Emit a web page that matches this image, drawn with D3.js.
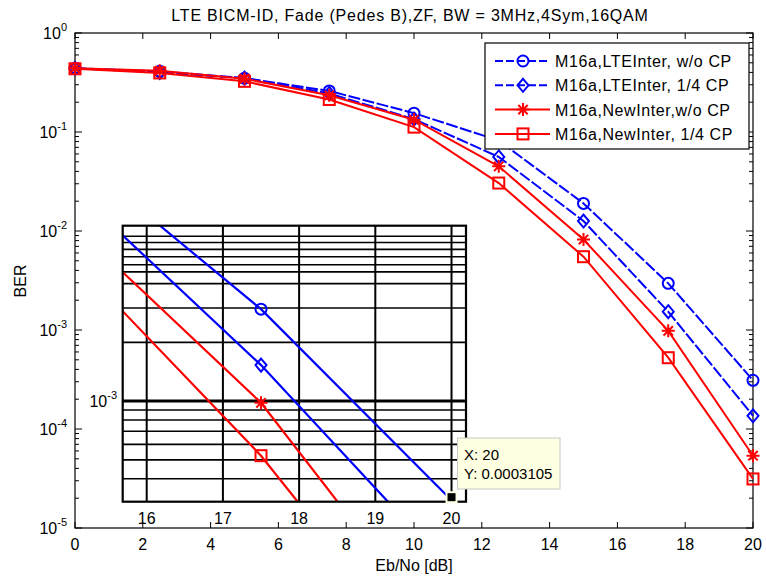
<!DOCTYPE html>
<html><head><meta charset="utf-8">
<script src="https://cdn.jsdelivr.net/npm/d3@7"></script>
<style>body{margin:0;background:#fff}svg{display:block;font-family:"Liberation Sans",Arial,sans-serif}</style>
</head><body>
<svg id="c" width="766" height="577"></svg>
<script>
// ---------- data ----------
const ebno = [0, 2.5, 5, 7.5, 10, 12.5, 15, 17.5, 20];
const lteNoCP  = [0.44, 0.41, 0.35, 0.26, 0.155, 0.082, 0.019, 0.00296, 0.0003105];
const lte14CP  = [0.44, 0.40, 0.35, 0.245, 0.135, 0.056, 0.0126, 0.00153, 0.000136];
const newNoCP  = [0.44, 0.415, 0.345, 0.235, 0.133, 0.045, 0.0082, 0.00098, 0.0000537];
const new14CP  = [0.435, 0.395, 0.325, 0.213, 0.112, 0.0305, 0.0055, 0.000525, 0.0000313];
const seriesNames = ["M16a,LTEInter, w/o CP", "M16a,LTEInter, 1/4 CP", "M16a,NewInter,w/o CP", "M16a,NewInter, 1/4 CP"];
const xTicks = [0, 2, 4, 6, 8, 10, 12, 14, 16, 18, 20];
const yExp = [0, -1, -2, -3, -4, -5];
const insetXTicks = [16, 17, 18, 19, 20];
const insetYMajor = [1e-3];
const insetExtraGrid = [4.6e-3, 5.5e-3, 6.5e-3];
const tipX = 20, tipY = 0.0003105;
const titleText = "LTE BICM-ID, Fade (Pedes B),ZF, BW = 3MHz,4Sym,16QAM";

const series = [
  {name: seriesNames[0], vals: lteNoCP, color: "#0000ff", dash: "12,2.5", marker: "circle"},
  {name: seriesNames[1], vals: lte14CP, color: "#0000ff", dash: "12,2.5", marker: "diamond"},
  {name: seriesNames[2], vals: newNoCP, color: "#ff0000", dash: null, marker: "star"},
  {name: seriesNames[3], vals: new14CP, color: "#ff0000", dash: null, marker: "square"}
];

const svg = d3.select("#c");
const L = 75, R = 753, T = 33, B = 528;
const x = d3.scaleLinear().domain([0, 20]).range([L, R]);
const y = d3.scaleLog().domain([1e-5, 1]).range([B, T]);

function marker(g, type, cx, cy, color) {
  const s = 5.5;
  if (type === "circle") {
    g.append("circle").attr("cx", cx).attr("cy", cy).attr("r", s).attr("fill", "none").attr("stroke", color).attr("stroke-width", 2);
  } else if (type === "diamond") {
    g.append("path").attr("d", `M${cx},${cy - 6.5}L${cx + 5.5},${cy}L${cx},${cy + 6.5}L${cx - 5.5},${cy}Z`).attr("fill", "none").attr("stroke", color).attr("stroke-width", 2);
  } else if (type === "square") {
    g.append("rect").attr("x", cx - s).attr("y", cy - s).attr("width", 2 * s).attr("height", 2 * s).attr("fill", "none").attr("stroke", color).attr("stroke-width", 2);
  } else if (type === "star") {
    const r = 6.5, d = r * 0.72;
    g.append("path").attr("d", `M${cx - r},${cy}L${cx + r},${cy}M${cx},${cy - r}L${cx},${cy + r}M${cx - d},${cy - d}L${cx + d},${cy + d}M${cx - d},${cy + d}L${cx + d},${cy - d}`).attr("stroke", color).attr("stroke-width", 2);
  }
}

// title
svg.append("text").attr("x", 410).attr("y", 21).attr("text-anchor", "middle").attr("font-size", 16).attr("letter-spacing", 0.8).text(titleText);

// axes box
svg.append("rect").attr("x", L).attr("y", T).attr("width", R - L).attr("height", B - T).attr("fill", "#fff").attr("stroke", "#000").attr("stroke-width", 1.2);

const ax = svg.append("g");
xTicks.forEach(t => {
  const px = x(t);
  ax.append("line").attr("x1", px).attr("x2", px).attr("y1", B).attr("y2", B - 6).attr("stroke", "#000");
  ax.append("line").attr("x1", px).attr("x2", px).attr("y1", T).attr("y2", T + 6).attr("stroke", "#000");
  ax.append("text").attr("x", px).attr("y", 550).attr("text-anchor", "middle").attr("font-size", 16).text(t);
});
yExp.forEach(e => {
  const py = y(Math.pow(10, e));
  ax.append("line").attr("x1", L).attr("x2", L + 7).attr("y1", py).attr("y2", py).attr("stroke", "#000");
  ax.append("line").attr("x1", R).attr("x2", R - 7).attr("y1", py).attr("y2", py).attr("stroke", "#000");
  const t = ax.append("text").attr("x", 67).attr("y", py + 6).attr("text-anchor", "end").attr("font-size", 16);
  t.append("tspan").text("10");
  t.append("tspan").attr("dy", -8).attr("font-size", 11).text(String(e));
  if (e > -5) {
    for (let m = 2; m <= 9; m++) {
      const pv = y(m * Math.pow(10, e - 1));
      ax.append("line").attr("x1", L).attr("x2", L + 4).attr("y1", pv).attr("y2", pv).attr("stroke", "#000");
      ax.append("line").attr("x1", R).attr("x2", R - 4).attr("y1", pv).attr("y2", pv).attr("stroke", "#000");
    }
  }
});
svg.append("text").attr("x", 414).attr("y", 571).attr("text-anchor", "middle").attr("font-size", 16).text("Eb/No [dB]");
svg.append("text").attr("transform", "translate(26,281) rotate(-90)").attr("text-anchor", "middle").attr("font-size", 16).text("BER");

// main lines
const lineMain = d3.line().x(d => x(d[0])).y(d => y(d[1]));
const gMain = svg.append("g");
series.forEach(s => {
  const pts = ebno.map((e, i) => [e, s.vals[i]]);
  gMain.append("path").attr("d", lineMain(pts)).attr("fill", "none").attr("stroke", s.color).attr("stroke-width", 2).attr("stroke-dasharray", s.dash);
  pts.forEach(p => marker(gMain, s.marker, x(p[0]), y(p[1]), s.color));
});

// legend
const lg = svg.append("g");
lg.append("rect").attr("x", 485).attr("y", 43).attr("width", 264).attr("height", 106).attr("fill", "#fff").attr("stroke", "#000").attr("stroke-width", 1.2);
series.forEach((s, i) => {
  const ly = 61 + i * 24.3;
  lg.append("line").attr("x1", 495).attr("x2", 550).attr("y1", ly).attr("y2", ly).attr("stroke", s.color).attr("stroke-width", 2).attr("stroke-dasharray", s.dash ? "8,3" : null);
  marker(lg, s.marker, 523, ly, s.color);
  lg.append("text").attr("x", 555).attr("y", ly + 6).attr("font-size", 16).attr("letter-spacing", 0.6).text(s.name);
});

// ---------- inset (zoomed view) ----------
const iL = 122.7, iR = 466, iT = 225.7, iB = 501.7;
const xi = d3.scaleLinear().domain([15.685, 20.19]).range([iL, iR]);
const yi = d3.scaleLog().domain([3.05e-4, 7.93e-3]).range([iB, iT]);
const gi = svg.append("g");
gi.append("rect").attr("x", iL).attr("y", iT).attr("width", iR - iL).attr("height", iB - iT).attr("fill", "#fff");
svg.append("clipPath").attr("id", "ic").append("rect").attr("x", iL).attr("y", iT).attr("width", iR - iL).attr("height", iB - iT);
const gic = gi.append("g").attr("clip-path", "url(#ic)");
const gridVals = [];
for (let e = -4; e <= -3; e++) for (let m = 1; m <= 9; m++) gridVals.push(m * Math.pow(10, e));
gridVals.concat(insetExtraGrid).forEach(v => {
  const py = yi(v);
  if (py < iT || py > iB) return;
  gic.append("line").attr("x1", iL).attr("x2", iR).attr("y1", py).attr("y2", py).attr("stroke", "#000").attr("stroke-width", insetYMajor.includes(v) ? 3 : 1.6);
});
insetXTicks.forEach(t => {
  gic.append("line").attr("x1", xi(t)).attr("x2", xi(t)).attr("y1", iT).attr("y2", iB).attr("stroke", "#000").attr("stroke-width", 2);
  gi.append("text").attr("x", xi(t)).attr("y", 524).attr("text-anchor", "middle").attr("font-size", 16).text(t);
});
const lineIn = d3.line().x(d => xi(d[0])).y(d => yi(d[1]));
series.forEach(s => {
  const pts = ebno.map((e, i) => [e, s.vals[i]]);
  gic.append("path").attr("d", lineIn(pts)).attr("fill", "none").attr("stroke", s.color).attr("stroke-width", 2.2);
  pts.forEach(p => {
    if (p[0] > 15.7 && p[0] < 20 && p[1] > 3.05e-4) marker(gic, s.marker, xi(p[0]), yi(p[1]), s.color);
  });
});
gi.append("rect").attr("x", iL).attr("y", iT).attr("width", iR - iL).attr("height", iB - iT).attr("fill", "none").attr("stroke", "#000").attr("stroke-width", 2.2);
const t3 = gi.append("text").attr("x", 117).attr("y", 407).attr("text-anchor", "end").attr("font-size", 16);
t3.append("tspan").text("10");
t3.append("tspan").attr("dy", -8).attr("font-size", 11).text("-3");

// data tip
const tx = xi(tipX), ty = yi(tipY) - 3;
gi.append("rect").attr("x", tx - 5).attr("y", ty - 5).attr("width", 10).attr("height", 10).attr("fill", "#000").attr("stroke", "#ffffe1").attr("stroke-width", 2);
gi.append("rect").attr("x", 457.5).attr("y", 438).attr("width", 102.5).attr("height", 51).attr("fill", "#ffffe1").attr("stroke", "#c8c8c8").attr("stroke-width", 1);
gi.append("text").attr("x", 464).attr("y", 460).attr("font-size", 15).text("X: " + tipX);
gi.append("text").attr("x", 464).attr("y", 479).attr("font-size", 15).text("Y: " + tipY.toFixed(7));
</script>
</body></html>
